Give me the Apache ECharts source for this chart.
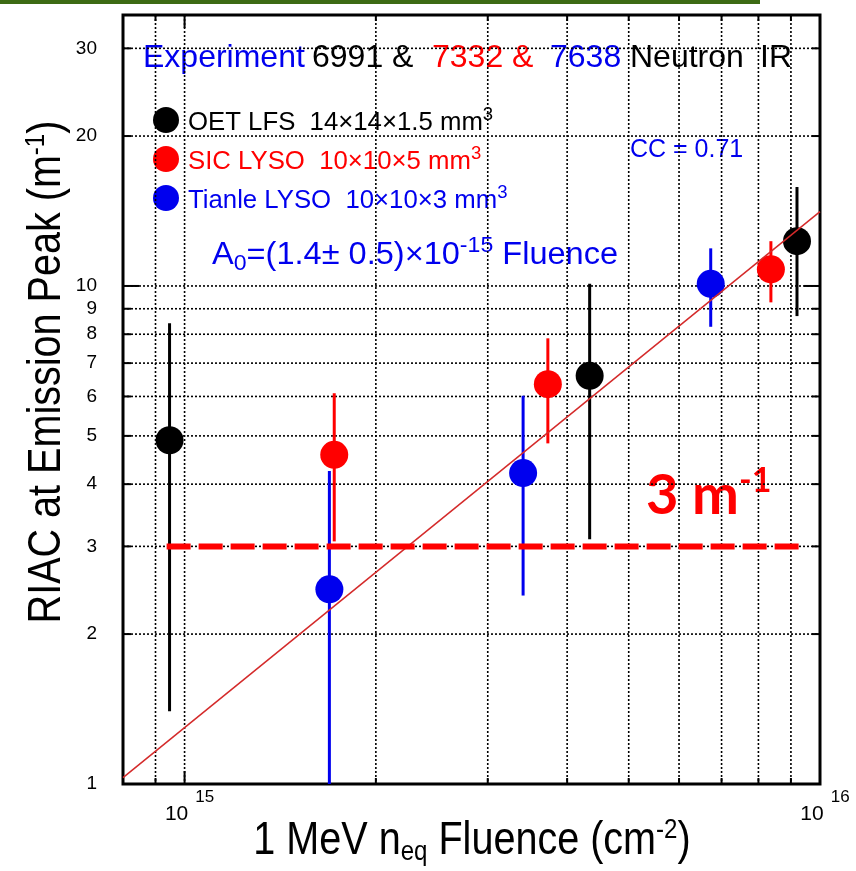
<!DOCTYPE html>
<html>
<head>
<meta charset="utf-8">
<script src="https://cdn.jsdelivr.net/npm/echarts@6/dist/echarts.min.js"></script>
<style>
  html, body { margin: 0; padding: 0; background: #fff; }
  #chart { width: 856px; height: 871px; }
</style>
</head>
<body>
<div id="chart"></div>
<script>
// axis ranges (log-log)
const xMin = 8e14
const xMax = 1e16
const yMin = 1
const yMax = 35

// dotted grid positions and tick labels
const xGrid = [9e14, 1e15, 2e15, 3e15, 4e15, 5e15, 6e15, 7e15, 8e15, 9e15]
const yGrid = [2, 3, 4, 5, 6, 7, 8, 9, 10, 20, 30]
const xMajor = [1e15]
const yMajor = [10]
const xTickLabels = [1e15, 1e16]
const yTickLabels = [1, 2, 3, 4, 5, 6, 7, 8, 9, 10, 20, 30]

// OET LFS 14x14x1.5 mm3
const oetFluence = [9.47e14, 4.34e15, 9.2e15]
const oetRiac = [4.9, 6.6, 12.3]
const oetLow = [1.4, 3.1, 8.7]
const oetHigh = [8.42, 10.1, 15.8]

// SIC LYSO 10x10x5 mm3
const sicFluence = [1.72e15, 3.73e15, 8.37e15]
const sicRiac = [4.58, 6.35, 10.8]
const sicLow = [3.07, 4.83, 9.27]
const sicHigh = [6.09, 7.85, 12.3]

// Tianle LYSO 10x10x3 mm3
const tianleFluence = [1.69e15, 3.41e15, 6.73e15]
const tianleRiac = [2.46, 4.21, 10.1]
const tianleLow = [1.0, 2.39, 8.28]
const tianleHigh = [4.25, 6.02, 11.9]

// fit line and 3 m-1 limit
const fitFluence = [8e14, 1e16]
const fitRiac = [1.03, 14.1]
const limitFluence = [9.37e14, 9.37e15]
const limitRiac = [3, 3]

const FONT = '"Liberation Sans", Arial, Helvetica, sans-serif'
const BLUE = '#0000ee'
const RED = '#ff0000'
const BLACK = '#000000'

const zip = (a, b) => a.map((v, i) => [v, b[i]])
const zip3 = (a, b, c) => a.map((v, i) => [v, b[i], c[i]])

function gridX(params, api) {
  const cs = params.coordSys
  const v = api.value(0)
  const px = api.coord([v, yMin])[0]
  const len = xMajor.includes(v) ? 13 : 6
  const bottom = cs.y + cs.height
  return {
    type: 'group',
    children: [
      { type: 'line', shape: { x1: px, y1: cs.y, x2: px, y2: bottom }, style: { stroke: BLACK, lineWidth: 1.6, lineDash: [2, 2] } },
      { type: 'line', shape: { x1: px, y1: bottom, x2: px, y2: bottom - len }, style: { stroke: BLACK, lineWidth: 2 } },
      { type: 'line', shape: { x1: px, y1: cs.y, x2: px, y2: cs.y + len }, style: { stroke: BLACK, lineWidth: 2 } }
    ]
  }
}

function gridY(params, api) {
  const cs = params.coordSys
  const v = api.value(1)
  const py = api.coord([xMin, v])[1]
  const len = yMajor.includes(v) ? 16 : 8
  const right = cs.x + cs.width
  return {
    type: 'group',
    children: [
      { type: 'line', shape: { x1: cs.x, y1: py, x2: right, y2: py }, style: { stroke: BLACK, lineWidth: 1.6, lineDash: [2, 2] } },
      { type: 'line', shape: { x1: cs.x, y1: py, x2: cs.x + len, y2: py }, style: { stroke: BLACK, lineWidth: 2 } },
      { type: 'line', shape: { x1: right, y1: py, x2: right - len, y2: py }, style: { stroke: BLACK, lineWidth: 2 } }
    ]
  }
}

function yLabel(params, api) {
  const cs = params.coordSys
  const v = api.value(1)
  const py = api.coord([xMin, v])[1]
  return {
    type: 'text',
    x: cs.x - 26,
    y: py,
    style: {
      text: String(v), fontSize: 19, fontFamily: FONT, fill: BLACK,
      align: 'right', verticalAlign: 'middle', textAlign: 'right', textVerticalAlign: 'middle'
    }
  }
}

function xLabel(params, api) {
  const cs = params.coordSys
  const v = api.value(0)
  const px = api.coord([v, yMin])[0]
  const exp = Math.round(Math.log10(v))
  return {
    type: 'text',
    x: px + 5,
    y: cs.y + cs.height + 5,
    style: {
      text: '{b|10}{s|' + exp + '}',
      align: 'center', verticalAlign: 'top',
      rich: {
        b: { fontSize: 21, fontFamily: FONT, fill: BLACK, color: BLACK, lineHeight: 36, verticalAlign: 'bottom' },
        s: { fontSize: 17, fontFamily: FONT, fill: BLACK, color: BLACK, lineHeight: 17, verticalAlign: 'top', padding: [0, 0, 0, 7] }
      }
    }
  }
}

function errorBar(color) {
  return function (params, api) {
    const x = api.value(0)
    const p1 = api.coord([x, api.value(1)])
    const p2 = api.coord([x, api.value(2)])
    return {
      type: 'line',
      shape: { x1: p1[0], y1: p1[1], x2: p2[0], y2: p2[1] },
      style: { stroke: color, lineWidth: 3 }
    }
  }
}

function points(name, color, fluence, riac) {
  return {
    name, type: 'scatter', z: 4,
    data: zip(fluence, riac),
    symbol: 'circle', symbolSize: 28,
    itemStyle: { color, opacity: 1 }
  }
}

function bars(color, fluence, low, high) {
  return {
    type: 'custom', z: 3,
    data: zip3(fluence, low, high),
    encode: { x: 0, y: [1, 2] },
    renderItem: errorBar(color)
  }
}

function txt(x, y, text, size, color) {
  return {
    type: 'text', x, y,
    style: {
      text, fontSize: size, fontFamily: FONT, fill: color,
      align: 'left', verticalAlign: 'middle', textAlign: 'left', textVerticalAlign: 'middle'
    }
  }
}

function richTok(size, color, va, lh, extra) {
  return Object.assign({ fontSize: size, fontFamily: FONT, fill: color, color, verticalAlign: va, lineHeight: lh }, extra || {})
}

function legendText(y, label, color) {
  return {
    type: 'text', x: 188, y, scaleX: 1.03,
    style: {
      text: '{t|' + label + '}{s|3}', verticalAlign: 'middle',
      rich: { t: richTok(25, color, 'bottom', 30), s: richTok(18, color, 'top', 14) }
    }
  }
}

const chart = echarts.init(document.getElementById('chart'))

chart.setOption({
  animation: false,
  backgroundColor: '#ffffff',
  grid: {
    left: 123, right: 36, top: 15, bottom: 87,
    show: true, borderColor: BLACK, borderWidth: 3, backgroundColor: 'transparent'
  },
  xAxis: {
    type: 'log', logBase: 10, min: xMin, max: xMax,
    axisLine: { show: false }, axisTick: { show: false }, axisLabel: { show: false }, splitLine: { show: false }
  },
  yAxis: {
    type: 'log', logBase: 10, min: yMin, max: yMax,
    axisLine: { show: false }, axisTick: { show: false }, axisLabel: { show: false }, splitLine: { show: false }
  },
  series: [
    { type: 'custom', z: 1, silent: true, data: xGrid.map(v => [v, yMin]), encode: { x: 0, y: 1 }, renderItem: gridX },
    { type: 'custom', z: 1, silent: true, data: yGrid.map(v => [xMin, v]), encode: { x: 0, y: 1 }, renderItem: gridY },
    { type: 'custom', z: 1, silent: true, data: yTickLabels.map(v => [xMin, v]), encode: { x: 0, y: 1 }, renderItem: yLabel },
    { type: 'custom', z: 1, silent: true, data: xTickLabels.map(v => [v, yMin]), encode: { x: 0, y: 1 }, renderItem: xLabel },
    bars(BLACK, oetFluence, oetLow, oetHigh),
    bars(RED, sicFluence, sicLow, sicHigh),
    bars(BLUE, tianleFluence, tianleLow, tianleHigh),
    points('OET LFS', BLACK, oetFluence, oetRiac),
    points('SIC LYSO', RED, sicFluence, sicRiac),
    points('Tianle LYSO', BLUE, tianleFluence, tianleRiac),
    {
      name: 'fit', type: 'line', z: 5, data: zip(fitFluence, fitRiac),
      showSymbol: false, symbol: 'none',
      lineStyle: { color: '#d42a2a', width: 1.5 }
    },
    {
      name: 'limit', type: 'line', z: 6, data: zip(limitFluence, limitRiac),
      showSymbol: false, symbol: 'none',
      lineStyle: { color: RED, width: 6, type: [24, 8] }
    }
  ],
  graphic: [
    { type: 'rect', x: 0, y: 0, shape: { width: 760, height: 4 }, style: { fill: '#3d6b14' } },

    // header
    txt(143, 58, 'Experiment', 32, BLUE),
    txt(312, 58, '6991 &', 32, BLACK),
    txt(432, 58, '7332 &', 32, RED),
    txt(550, 58, '7638', 32, BLUE),
    txt(630, 58, 'Neutron', 32, BLACK),
    txt(760, 58, 'IR', 32, BLACK),

    // legend
    { type: 'circle', shape: { cx: 166, cy: 120, r: 13 }, style: { fill: BLACK } },
    { type: 'circle', shape: { cx: 166, cy: 159, r: 13 }, style: { fill: RED } },
    { type: 'circle', shape: { cx: 166, cy: 198, r: 13 }, style: { fill: BLUE } },
    legendText(121, 'OET LFS  14×14×1.5 mm', BLACK),
    legendText(160, 'SIC LYSO  10×10×5 mm', RED),
    legendText(199, 'Tianle LYSO  10×10×3 mm', BLUE),

    // fit result
    {
      type: 'text', x: 212, y: 255, scaleX: 1.05,
      style: {
        text: '{t|A}{d|0}{t|=(1.4± 0.5)×10}{u|-15}{t| Fluence}', verticalAlign: 'middle',
        rich: {
          t: richTok(31, BLUE, 'middle', 40),
          d: richTok(22, BLUE, 'bottom', 16),
          u: richTok(22, BLUE, 'top', 16)
        }
      }
    },
    txt(630, 150, 'CC = 0.71', 25, BLUE),

    // 3 m-1 label
    {
      type: 'text', x: 646, y: 494,
      style: {
        text: '{t|3 m}{s|-1}', verticalAlign: 'middle',
        rich: {
          t: richTok(56, RED, 'bottom', 60, { fontWeight: 'bold', fontFamily: 'Lato, ' + FONT }),
          s: richTok(34, RED, 'top', 30, { fontWeight: 'bold', fontFamily: 'Lato, ' + FONT })
        }
      }
    },

    // axis titles
    {
      type: 'text', x: 472, y: 841, scaleX: 0.86,
      style: {
        text: '{t|1 MeV n}{d|eq}{t| Fluence (cm}{u|-2}{t|)}', align: 'center', verticalAlign: 'middle',
        rich: {
          t: richTok(46, BLACK, 'middle', 50),
          d: richTok(28, BLACK, 'bottom', 20),
          u: richTok(28, BLACK, 'top', 22)
        }
      }
    },
    {
      type: 'text', x: 47, y: 372, rotation: Math.PI / 2, scaleX: 0.86,
      style: {
        text: '{t|RIAC at Emission Peak (m}{u|-1}{t|)}', align: 'center', verticalAlign: 'middle',
        rich: {
          t: richTok(46, BLACK, 'middle', 50),
          u: richTok(28, BLACK, 'top', 22)
        }
      }
    }
  ]
})
</script>
</body>
</html>
